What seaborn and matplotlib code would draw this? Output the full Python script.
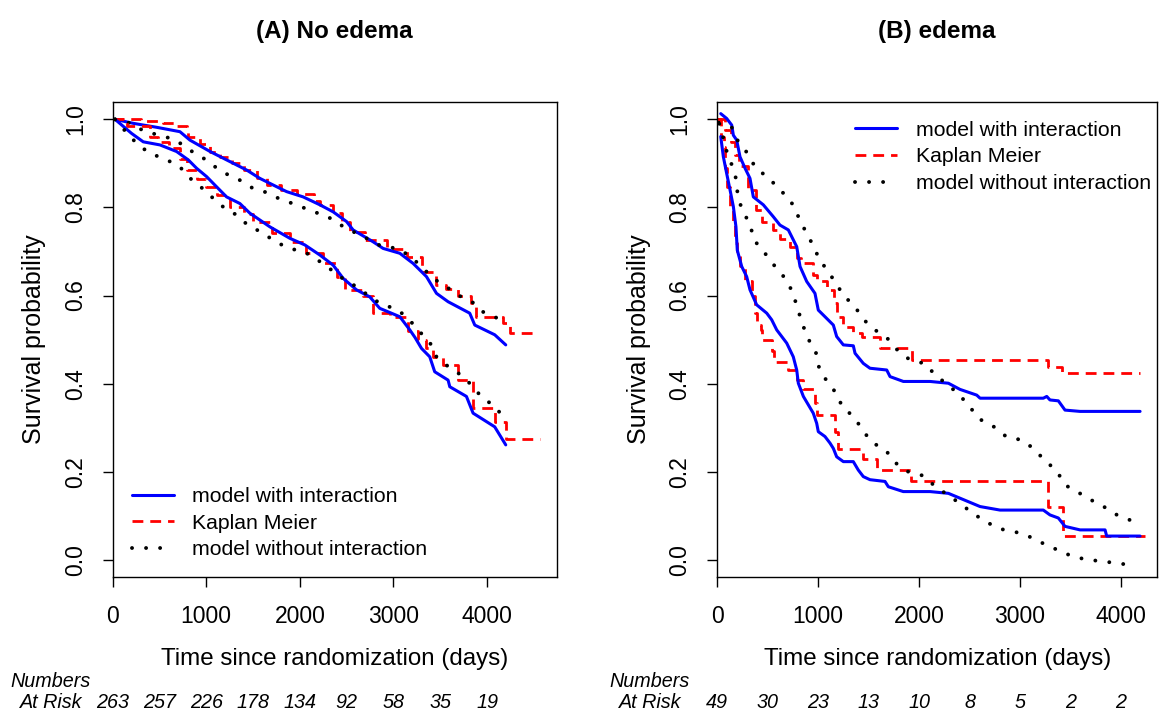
import matplotlib
matplotlib.use("Agg")
import matplotlib.pyplot as plt
import matplotlib.transforms as mtransforms
import seaborn as sns

sns.set_style("ticks")
plt.rcParams['font.family'] = ['Liberation Sans', 'DejaVu Sans']
plt.rcParams['text.color'] = 'black'
plt.rcParams['axes.labelcolor'] = 'black'
plt.rcParams['xtick.color'] = 'black'
plt.rcParams['ytick.color'] = 'black'
plt.rcParams['axes.edgecolor'] = 'black'

# ---------------- data ----------------
# Panel A (No edema): two groups (upper / lower)
a_up_model_t = [26, 220, 470, 719, 825, 1041, 1217, 1431, 1573, 1715, 1858, 2035, 2214, 2356, 2499, 2569,
                2783, 2890, 3068, 3210, 3353, 3460, 3584, 3815, 3869, 4082, 4200]
a_up_model_s = [1.0, 0.991, 0.982, 0.972, 0.953, 0.927, 0.908, 0.885, 0.866, 0.851, 0.836, 0.824, 0.806, 0.790,
                0.768, 0.749, 0.722, 0.707, 0.696, 0.673, 0.643, 0.605, 0.586, 0.560, 0.533, 0.511, 0.488]
a_up_km_t = [0, 300, 540, 690, 790, 808, 932, 1039, 1150, 1271, 1400, 1538, 1650, 1800, 1965, 2150, 2214, 2356,
             2450, 2534, 2700, 2926, 3150, 3300, 3450, 3566, 3690, 3833, 3887, 4171, 4242, 4528]
a_up_km_s = [1.0, 0.997, 0.992, 0.985, 0.972, 0.961, 0.945, 0.927, 0.915, 0.902, 0.885, 0.866, 0.850, 0.840,
             0.830, 0.815, 0.806, 0.787, 0.768, 0.745, 0.725, 0.705, 0.688, 0.654, 0.625, 0.614, 0.598, 0.583,
             0.552, 0.537, 0.516, 0.516]
a_up_nomod_t = [26, 196, 345, 505, 676, 808, 950, 1082, 1217, 1359, 1502, 1662, 1804, 1971, 2118, 2285, 2420,
                2570, 2712, 2872, 3043, 3175, 3299, 3424, 3566, 3690, 3844, 3957, 4118, 4190]
a_up_nomod_s = [1.0, 0.991, 0.972, 0.964, 0.953, 0.932, 0.915, 0.894, 0.876, 0.862, 0.843, 0.833, 0.817, 0.806,
                0.792, 0.781, 0.762, 0.745, 0.730, 0.712, 0.707, 0.690, 0.666, 0.639, 0.620, 0.601, 0.585, 0.563,
                0.548, 0.538]

a_lo_model_t = [26, 203, 327, 505, 683, 808, 897, 1004, 1110, 1217, 1359, 1466, 1680, 1893, 2053, 2214, 2356,
                2463, 2605, 2747, 2854, 3068, 3175, 3230, 3300, 3388, 3441, 3584, 3602, 3780, 3851, 4082, 4200]
a_lo_model_s = [1.0, 0.968, 0.949, 0.942, 0.927, 0.908, 0.889, 0.870, 0.847, 0.824, 0.809, 0.787, 0.756, 0.730,
                0.715, 0.692, 0.669, 0.639, 0.613, 0.597, 0.571, 0.552, 0.522, 0.505, 0.480, 0.461, 0.427, 0.408,
                0.393, 0.371, 0.333, 0.302, 0.261]
a_lo_km_t = [0, 150, 398, 487, 600, 719, 790, 897, 1000, 1110, 1253, 1400, 1500, 1700, 1900, 2071, 2250, 2392,
             2481, 2676, 2783, 2961, 3160, 3263, 3353, 3424, 3530, 3690, 3851, 4090, 4200, 4563]
a_lo_km_s = [1.0, 0.985, 0.961, 0.949, 0.934, 0.911, 0.885, 0.865, 0.847, 0.828, 0.802, 0.785, 0.768, 0.741,
             0.722, 0.696, 0.673, 0.643, 0.613, 0.598, 0.560, 0.552, 0.520, 0.500, 0.480, 0.461, 0.442, 0.408,
             0.344, 0.314, 0.274, 0.274]
a_lo_nomod_t = [26, 149, 267, 398, 558, 711, 818, 950, 1068, 1188, 1331, 1448, 1598, 1726, 1883, 2043, 2189, 2320,
                2456, 2605, 2740, 2879, 3032, 3157, 3271, 3388, 3460, 3584, 3719, 3844, 3947, 4090, 4189]
a_lo_nomod_s = [1.0, 0.970, 0.943, 0.923, 0.910, 0.894, 0.868, 0.845, 0.822, 0.800, 0.782, 0.759, 0.743, 0.724,
                0.707, 0.700, 0.681, 0.661, 0.639, 0.620, 0.599, 0.579, 0.570, 0.548, 0.520, 0.494, 0.461, 0.439,
                0.420, 0.395, 0.368, 0.348, 0.318]

# Panel B (edema)
b_up_model_t = [34, 93, 143, 159, 192, 225, 275, 324, 357, 456, 555, 621, 704, 787, 820, 886, 968, 1001, 1067,
                1150, 1183, 1249, 1348, 1365, 1447, 1513, 1679, 1712, 1844, 2108, 2290, 2405, 2571, 2604, 3231,
                3265, 3297, 3380, 3446, 3595, 4190]
b_up_model_s = [1.013, 1.002, 0.987, 0.964, 0.953, 0.915, 0.889, 0.866, 0.824, 0.806, 0.779, 0.760, 0.749, 0.711,
                0.666, 0.632, 0.605, 0.567, 0.552, 0.533, 0.507, 0.488, 0.486, 0.469, 0.446, 0.435, 0.431, 0.416,
                0.405, 0.405, 0.401, 0.387, 0.374, 0.367, 0.367, 0.371, 0.363, 0.361, 0.340, 0.337, 0.337]
b_up_km_t = [0, 76, 133, 180, 218, 300, 380, 440, 550, 625, 725, 790, 830, 945, 985, 1084, 1160, 1183, 1249,
             1340, 1431, 1612, 1927, 3280, 3413, 4190]
b_up_km_s = [1.0, 0.975, 0.949, 0.919, 0.893, 0.840, 0.794, 0.767, 0.749, 0.728, 0.711, 0.685, 0.673, 0.647,
             0.632, 0.613, 0.583, 0.552, 0.528, 0.515, 0.507, 0.480, 0.454, 0.437, 0.424, 0.424]
b_up_nomod_t = [20, 143, 208, 307, 380, 506, 611, 721, 793, 859, 935, 1001, 1084, 1173, 1249, 1358, 1447, 1563,
                1685, 1778, 1903, 2062, 2158, 2280, 2395, 2498, 2604, 2742, 2868, 3020, 3132, 3245, 3364, 3446,
                3578, 3704, 3843, 3968, 4117]
b_up_nomod_s = [0.995, 0.982, 0.949, 0.921, 0.889, 0.868, 0.842, 0.818, 0.784, 0.753, 0.720, 0.688, 0.658, 0.630,
                0.600, 0.577, 0.546, 0.522, 0.503, 0.478, 0.455, 0.445, 0.420, 0.398, 0.376, 0.348, 0.319, 0.302,
                0.279, 0.272, 0.253, 0.226, 0.202, 0.170, 0.153, 0.136, 0.119, 0.101, 0.088]

b_lo_model_t = [34, 60, 93, 126, 159, 185, 198, 242, 291, 324, 390, 490, 539, 589, 688, 753, 787, 803, 853, 902,
                951, 985, 1001, 1067, 1117, 1150, 1183, 1249, 1348, 1397, 1447, 1513, 1662, 1695, 1843, 2108, 2290,
                2405, 2604, 2802, 3231, 3297, 3380, 3446, 3595, 3843, 3859, 4190]
b_lo_model_s = [0.961, 0.915, 0.877, 0.840, 0.802, 0.756, 0.703, 0.666, 0.643, 0.613, 0.579, 0.560, 0.545, 0.522,
                0.492, 0.461, 0.431, 0.401, 0.371, 0.352, 0.333, 0.310, 0.291, 0.280, 0.265, 0.253, 0.234, 0.223,
                0.223, 0.204, 0.189, 0.182, 0.178, 0.166, 0.155, 0.155, 0.151, 0.140, 0.121, 0.113, 0.113, 0.102,
                0.095, 0.076, 0.068, 0.068, 0.054, 0.054]
b_lo_km_t = [0, 40, 66, 80, 93, 126, 159, 175, 200, 225, 275, 341, 370, 390, 430, 445, 539, 560, 700, 787, 850,
             968, 990, 1167, 1200, 1447, 1580, 1915, 3280, 3429, 4240]
b_lo_km_s = [1.0, 0.960, 0.938, 0.890, 0.847, 0.794, 0.764, 0.719, 0.690, 0.666, 0.632, 0.598, 0.560, 0.533,
             0.522, 0.500, 0.475, 0.450, 0.430, 0.408, 0.387, 0.355, 0.329, 0.290, 0.251, 0.228, 0.204, 0.178,
             0.121, 0.054, 0.054]
b_lo_nomod_t = [20, 44, 76, 133, 182, 202, 242, 324, 364, 466, 555, 658, 743, 790, 836, 892, 975, 1008, 1084, 1173,
                1243, 1358, 1437, 1533, 1672, 1761, 1893, 2042, 2158, 2280, 2405, 2531, 2663, 2809, 2960, 3099,
                3241, 3387, 3528, 3681, 3843, 3998, 4157]
b_lo_nomod_s = [0.990, 0.975, 0.938, 0.904, 0.868, 0.830, 0.796, 0.762, 0.726, 0.698, 0.671, 0.643, 0.610, 0.575,
                0.541, 0.505, 0.473, 0.437, 0.406, 0.380, 0.346, 0.324, 0.295, 0.267, 0.248, 0.221, 0.200, 0.191,
                0.167, 0.148, 0.128, 0.106, 0.086, 0.070, 0.063, 0.052, 0.036, 0.021, 0.007, 0.000, -0.004,
                -0.009, -0.012]

risk_times = [0, 500, 1000, 1500, 2000, 2500, 3000, 3500, 4000]
risk_a = [263, 257, 226, 178, 134, 92, 58, 35, 19]
risk_b = [49, 30, 23, 13, 10, 8, 5, 2, 2]

titles = ["(A) No edema", "(B) edema"]
legend_labels = ["model with interaction", "Kaplan Meier", "model without interaction"]
x_ticks = [0, 1000, 2000, 3000, 4000]
y_ticks = [0.0, 0.2, 0.4, 0.6, 0.8, 1.0]
y_ticklabels = ["0.0", "0.2", "0.4", "0.6", "0.8", "1.0"]

# ---------------- figure ----------------
BLUE, RED, BLACK = "#0000ff", "#ff0000", "#000000"
fig = plt.figure(figsize=(11.59, 7.13), dpi=100)
axA = fig.add_axes([0.0972, 0.1907, 0.3831, 0.6666])
axB = fig.add_axes([0.6189, 0.1907, 0.3794, 0.6666])

blue_kw = dict(color=BLUE, lw=2.2, estimator=None, sort=False)
red_kw = dict(color=RED, lw=2.0, estimator=None, sort=False, drawstyle="steps-post",
              linestyle=(0, (3.9, 2.5)), dash_capstyle="butt")
blk_kw = dict(color=BLACK, lw=2.8, estimator=None, sort=False,
              linestyle=(0, (0.01, 3.6)), dash_capstyle="round")


def draw_panel(ax, groups, title, xmax, risk, risk_label_x, legend_anchor, legend_loc, ylab_x):
    for i, (mt, ms, kt, ks, nt, ns) in enumerate(groups):
        lab = (lambda s: s) if i == 0 else (lambda s: "_nolegend_")
        sns.lineplot(x=kt, y=ks, ax=ax, label=lab(legend_labels[1]), **red_kw)
        sns.lineplot(x=mt, y=ms, ax=ax, label=lab(legend_labels[0]), **blue_kw)
        sns.lineplot(x=nt, y=ns, ax=ax, label=lab(legend_labels[2]), **blk_kw)
    ax.set_xlim(0, xmax)
    ax.set_ylim(-0.039, 1.04)
    ax.set_xticks(x_ticks)
    ax.set_xticklabels([str(v) for v in x_ticks])
    ax.set_yticks(y_ticks)
    ax.set_yticklabels(y_ticklabels)
    for sp in ax.spines.values():
        sp.set_visible(True)
        sp.set_color("black")
        sp.set_linewidth(1.0)
    ax.tick_params(direction="out", length=7.5, width=1.0, colors="black", labelcolor="black",
                   labelsize=16.5)
    ax.tick_params(axis="x", pad=12.5)
    ax.tick_params(axis="y", pad=11.0, labelrotation=90)
    for lab_ in ax.get_yticklabels():
        lab_.set_va("center")
    ax.set_xlabel("Time since randomization (days)", fontsize=17.4, color="black")
    ax.xaxis.set_label_coords(0.5, -0.1494)
    ax.set_ylabel("Survival probability", fontsize=18, color="black")
    ax.yaxis.set_label_coords(ylab_x, 0.5)
    ax.set_title(title, fontsize=17.5, fontweight="bold", pad=46, color="black")

    handles, labels = ax.get_legend_handles_labels()
    order = [labels.index(l) for l in legend_labels]
    leg = ax.legend([handles[j] for j in order], [labels[j] for j in order], loc=legend_loc,
                    bbox_to_anchor=legend_anchor, frameon=False, fontsize=15.3, borderpad=0,
                    borderaxespad=0, handlelength=2.0, handletextpad=0.85, labelspacing=0.36)
    for txt in leg.get_texts():
        txt.set_color("black")

    trans = mtransforms.blended_transform_factory(ax.transData, ax.transAxes)
    ax.text(risk_label_x, -0.2308, "Numbers", transform=trans, ha="center", va="baseline",
            fontsize=14.2, fontstyle="italic", clip_on=False, color="black")
    ax.text(risk_label_x, -0.2762, "At Risk", transform=trans, ha="center", va="baseline",
            fontsize=14.2, fontstyle="italic", clip_on=False, color="black")
    for t, n in zip(risk_times, risk):
        ax.text(t, -0.2762, str(n), transform=trans, ha="center", va="baseline",
                fontsize=14.2, fontstyle="italic", clip_on=False, color="black")


groups_a = [(a_up_model_t, a_up_model_s, a_up_km_t, a_up_km_s, a_up_nomod_t, a_up_nomod_s),
            (a_lo_model_t, a_lo_model_s, a_lo_km_t, a_lo_km_s, a_lo_nomod_t, a_lo_nomod_s)]
groups_b = [(b_up_model_t, b_up_model_s, b_up_km_t, b_up_km_s, b_up_nomod_t, b_up_nomod_s),
            (b_lo_model_t, b_lo_model_s, b_lo_km_t, b_lo_km_s, b_lo_nomod_t, b_lo_nomod_s)]

draw_panel(axA, groups_a, titles[0], 4744, risk_a, -660, (0.0428, 0.113), "center left", -0.1502)
draw_panel(axB, groups_b, titles[1], 4358, risk_b, -667, (0.313, 0.884), "center left", -0.1517)

fig.savefig("out.png", dpi=100)
